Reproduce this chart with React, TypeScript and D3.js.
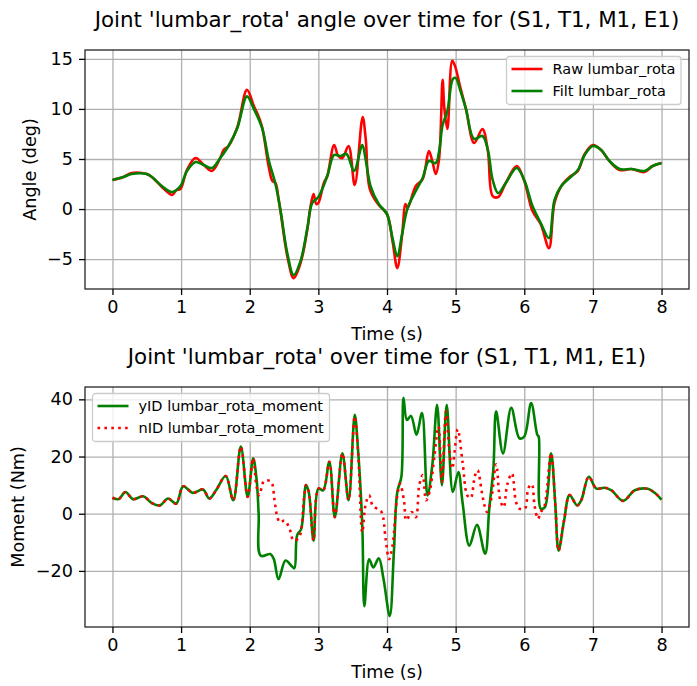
import React, { useEffect, useRef } from "react";
import * as d3 from "d3";

// top panel: raw and filtered joint angle (deg)
const rawTime = [0.0, 0.16, 0.28, 0.5, 0.575, 0.72, 0.8, 0.87, 0.93, 0.99, 1.085, 1.21, 1.33, 1.45, 1.57, 1.62, 1.69, 1.82, 1.96, 2.06, 2.12, 2.18, 2.28, 2.33, 2.375, 2.42, 2.45, 2.55, 2.64, 2.74, 2.84, 2.88, 2.93, 2.97, 3.0, 3.08, 3.13, 3.23, 3.29, 3.35, 3.44, 3.53, 3.645, 3.69, 3.75, 3.88, 4.0, 4.08, 4.15, 4.22, 4.27, 4.3, 4.42, 4.52, 4.61, 4.66, 4.71, 4.76, 4.81, 4.835, 4.88, 4.95, 4.99, 5.07, 5.15, 5.27, 5.39, 5.47, 5.54, 5.62, 5.73, 5.89, 6.0, 6.12, 6.24, 6.36, 6.44, 6.54, 6.66, 6.78, 6.88, 7.0, 7.12, 7.24, 7.39, 7.56, 7.75, 7.87, 8.0];
const rawAngle = [2.9, 3.2, 3.6, 3.5, 3.2, 2.2, 1.7, 1.4, 1.9, 2.0, 3.9, 5.1, 4.4, 3.8, 5.1, 5.9, 6.3, 8.2, 11.9, 10.3, 9.4, 8.2, 4.1, 2.8, 2.6, 1.0, -0.3, -4.8, -6.9, -5.4, -2.0, 0.0, 1.5, 0.5, 0.6, 2.6, 3.3, 6.4, 5.3, 5.1, 6.3, 2.4, 9.2, 7.0, 2.0, 0.4, -0.5, -3.2, -5.9, -2.6, 0.5, 0.1, 2.3, 3.0, 5.8, 4.8, 3.5, 5.1, 12.9, 10.1, 8.0, 14.8, 14.3, 12.1, 10.0, 6.6, 8.0, 5.8, 1.3, 1.2, 2.6, 4.3, 2.8, -0.2, -1.5, -3.9, 0.6, 2.3, 3.2, 3.8, 5.5, 6.4, 5.9, 4.8, 3.9, 4.0, 3.7, 4.3, 4.6];

const filtTime = [0.0, 0.16, 0.28, 0.5, 0.575, 0.72, 0.87, 0.99, 1.085, 1.21, 1.33, 1.45, 1.57, 1.69, 1.82, 1.96, 2.06, 2.18, 2.28, 2.375, 2.45, 2.55, 2.64, 2.74, 2.84, 2.91, 3.0, 3.13, 3.23, 3.32, 3.41, 3.52, 3.64, 3.69, 3.76, 3.88, 4.0, 4.08, 4.15, 4.22, 4.3, 4.42, 4.52, 4.61, 4.71, 4.76, 4.81, 4.88, 4.96, 5.0, 5.07, 5.15, 5.27, 5.39, 5.47, 5.54, 5.62, 5.73, 5.89, 6.0, 6.12, 6.24, 6.36, 6.44, 6.54, 6.66, 6.78, 6.88, 7.0, 7.12, 7.24, 7.39, 7.56, 7.75, 7.87, 8.0];
const filtAngle = [2.9, 3.2, 3.5, 3.5, 3.2, 2.3, 1.7, 2.3, 3.8, 4.7, 4.4, 4.1, 5.1, 6.3, 8.1, 11.25, 10.0, 8.1, 4.8, 2.5, -0.2, -4.5, -6.6, -5.2, -1.9, 0.6, 1.2, 3.3, 5.4, 5.3, 5.5, 3.8, 6.4, 4.9, 2.3, 0.5, -0.5, -2.9, -4.7, -2.5, 0.1, 1.8, 3.1, 4.8, 4.6, 5.8, 8.4, 9.8, 13.0, 13.1, 11.8, 10.0, 7.0, 7.3, 5.9, 2.9, 1.6, 2.6, 4.1, 2.9, 0.3, -1.4, -2.9, 0.9, 2.3, 3.1, 3.9, 5.4, 6.3, 5.9, 4.8, 4.0, 4.0, 3.8, 4.3, 4.6];

// bottom panel: moment with / without ID (Nm)
const yidTime = [0.0, 0.09, 0.19, 0.3, 0.45, 0.57, 0.69, 0.81, 0.93, 1.03, 1.17, 1.32, 1.41, 1.51, 1.65, 1.76, 1.87, 1.97, 2.05, 2.1, 2.13, 2.16, 2.3, 2.35, 2.42, 2.52, 2.6, 2.65, 2.69, 2.75, 2.82, 2.86, 2.93, 3.0, 3.07, 3.16, 3.24, 3.35, 3.44, 3.53, 3.58, 3.64, 3.67, 3.74, 3.8, 3.88, 3.95, 4.04, 4.1, 4.15, 4.21, 4.24, 4.29, 4.35, 4.43, 4.51, 4.59, 4.66, 4.73, 4.8, 4.87, 4.96, 5.04, 5.1, 5.2, 5.31, 5.43, 5.49, 5.55, 5.59, 5.69, 5.81, 5.93, 6.0, 6.1, 6.19, 6.21, 6.24, 6.3, 6.39, 6.45, 6.5, 6.58, 6.66, 6.77, 6.83, 6.94, 7.05, 7.17, 7.27, 7.44, 7.61, 7.8, 7.9, 8.0];
const yidMoment = [5.6, 5.1, 7.6, 5.1, 6.1, 3.8, 2.9, 5.3, 3.5, 9.6, 7.3, 8.5, 5.3, 8.2, 13.2, 4.7, 23.5, 5.9, 19.4, 12.0, 0.0, -14.7, -14.1, -15.8, -22.9, -16.4, -18.0, -19.1, -7.6, -5.3, 10.0, 7.6, -9.4, 8.8, 8.2, 18.2, -1.2, 21.1, 4.7, 34.6, 21.7, -4.1, -32.3, -15.9, -18.8, -15.6, -22.9, -35.8, -13.5, 7.6, 13.0, 40.5, 32.8, 34.2, 27.6, 35.2, 6.4, 17.0, 38.1, 10.0, 38.1, 7.6, 14.6, 4.1, -11.2, -3.9, -14.0, 1.8, 15.8, 35.8, 21.1, 37.0, 26.4, 27.0, 38.7, 27.6, 27.0, 1.8, 2.3, 21.1, 4.1, -12.9, -2.4, 6.5, 2.9, 4.7, 12.9, 8.8, 9.1, 8.2, 4.5, 8.2, 8.7, 7.3, 4.9];

const nidTime = [0.0, 0.09, 0.19, 0.3, 0.45, 0.57, 0.69, 0.81, 0.93, 1.03, 1.17, 1.32, 1.41, 1.51, 1.65, 1.76, 1.87, 1.97, 2.05, 2.1, 2.14, 2.21, 2.31, 2.36, 2.4, 2.44, 2.51, 2.58, 2.64, 2.72, 2.79, 2.82, 2.86, 2.93, 3.0, 3.07, 3.16, 3.24, 3.35, 3.44, 3.53, 3.58, 3.64, 3.69, 3.74, 3.79, 3.85, 3.92, 3.98, 4.03, 4.08, 4.15, 4.19, 4.25, 4.28, 4.36, 4.42, 4.47, 4.52, 4.57, 4.62, 4.69, 4.75, 4.8, 4.86, 4.91, 4.95, 5.03, 5.1, 5.17, 5.22, 5.28, 5.32, 5.38, 5.42, 5.46, 5.52, 5.59, 5.65, 5.7, 5.75, 5.82, 5.88, 5.93, 6.01, 6.06, 6.11, 6.15, 6.2, 6.24, 6.29, 6.39, 6.45, 6.5, 6.58, 6.66, 6.77, 6.83, 6.94, 7.05, 7.17, 7.27, 7.44, 7.61, 7.8, 7.9, 8.0];
const nidMoment = [5.6, 5.1, 7.6, 5.1, 6.1, 3.8, 2.9, 5.3, 3.5, 9.6, 7.3, 8.5, 5.3, 8.2, 13.2, 4.7, 23.5, 5.9, 19.4, 9.4, 6.5, 11.5, 11.2, 5.0, -1.0, -3.0, -2.4, -5.3, -9.4, -8.2, 5.3, 10.0, 7.6, -9.4, 8.8, 8.2, 18.2, -1.2, 21.1, 4.7, 34.0, 21.0, -6.5, 3.5, 6.4, 2.9, 1.8, 0.6, -8.8, -15.9, -11.2, 6.4, 10.5, 4.1, -2.3, 0.6, -1.2, 10.0, 13.5, 4.7, 7.6, 19.9, 30.5, 11.1, 35.8, 21.7, 15.8, 29.5, 18.2, 6.4, 5.5, 13.2, 15.2, 7.8, 2.9, 0.6, 5.3, 17.3, 4.7, 2.3, 10.0, 14.1, 4.1, 1.8, 1.8, 9.0, 10.3, 2.9, -1.8, 0.6, 2.3, 21.1, 4.1, -12.9, -2.4, 6.5, 2.9, 4.7, 12.9, 8.8, 9.1, 8.2, 4.5, 8.2, 8.7, 7.3, 4.9];

const timeTicks = [0, 1, 2, 3, 4, 5, 6, 7, 8];
const angleTicks = [-5, 0, 5, 10, 15];
const momentTicks = [-20, 0, 20, 40];

const W = 697;
const H = 686;
const FONT = "DejaVu Sans";
const FS = 17.6; // tick / label size
const TITLE_FS = 21.4;
const LEG_FS = 14.5;

type Series = { t: number[]; v: number[]; color: string; dash?: string; label: string };

function pad(ext: [number, number]): [number, number] {
  const m = (ext[1] - ext[0]) * 0.05;
  return [ext[0] - m, ext[1] + m];
}

function drawPanel(
  svg: d3.Selection<SVGSVGElement, unknown, null, undefined>,
  box: { left: number; right: number; top: number; bottom: number },
  series: Series[],
  yTicks: number[],
  title: string,
  ylabel: string,
  ylabelX: number,
  legend: { x: number; y: number; w: number }
) {
  const allT = series.flatMap((s) => s.t);
  const allV = series.flatMap((s) => s.v);
  const x = d3.scaleLinear().domain(pad(d3.extent(allT) as [number, number])).range([box.left, box.right]);
  const y = d3.scaleLinear().domain(pad(d3.extent(allV) as [number, number])).range([box.bottom, box.top]);
  const h = box.bottom - box.top;
  const w = box.right - box.left;

  // grid
  const gx = svg
    .append("g")
    .attr("transform", `translate(0, ${box.bottom})`)
    .call(d3.axisBottom(x).tickValues(timeTicks).tickSize(-h).tickFormat(() => ""));
  gx.select(".domain").remove();
  gx.selectAll(".tick line").attr("stroke", "#b0b0b0").attr("stroke-width", 1.3);

  const gy = svg
    .append("g")
    .attr("transform", `translate(${box.left}, 0)`)
    .call(d3.axisLeft(y).tickValues(yTicks).tickSize(-w).tickFormat(() => ""));
  gy.select(".domain").remove();
  gy.selectAll(".tick line").attr("stroke", "#b0b0b0").attr("stroke-width", 1.3);

  // lines
  series.forEach((s) => {
    const pts = s.t.map((t, i) => [t, s.v[i]] as [number, number]);
    const line = d3
      .line<[number, number]>()
      .x((d) => x(d[0]))
      .y((d) => y(d[1]))
      .curve(d3.curveCatmullRom.alpha(0.5));
    svg
      .append("path")
      .datum(pts)
      .attr("fill", "none")
      .attr("stroke", s.color)
      .attr("stroke-width", 2.6)
      .attr("stroke-linejoin", "round")
      .attr("stroke-dasharray", s.dash ?? null)
      .attr("d", line);
  });

  // spines
  svg
    .append("rect")
    .attr("x", box.left)
    .attr("y", box.top)
    .attr("width", w)
    .attr("height", h)
    .attr("fill", "none")
    .attr("stroke", "#262626")
    .attr("stroke-width", 1.3);

  // ticks + labels
  const ax = svg
    .append("g")
    .attr("transform", `translate(0, ${box.bottom})`)
    .call(d3.axisBottom(x).tickValues(timeTicks).tickSize(6).tickPadding(6).tickFormat(d3.format("d")));
  ax.select(".domain").remove();
  ax.selectAll(".tick line").attr("stroke", "#000").attr("stroke-width", 1.3);
  ax.selectAll("text").attr("font-size", FS).attr("font-family", FONT).attr("fill", "#000");

  const ay = svg
    .append("g")
    .attr("transform", `translate(${box.left}, 0)`)
    .call(d3.axisLeft(y).tickValues(yTicks).tickSize(6).tickPadding(6).tickFormat(d3.format("d")));
  ay.select(".domain").remove();
  ay.selectAll(".tick line").attr("stroke", "#000").attr("stroke-width", 1.3);
  ay.selectAll("text").attr("font-size", FS).attr("font-family", FONT).attr("fill", "#000");

  const cx = (box.left + box.right) / 2;
  svg
    .append("text")
    .attr("x", cx)
    .attr("y", box.bottom + 51)
    .attr("text-anchor", "middle")
    .attr("font-size", FS)
    .attr("font-family", FONT)
    .text("Time (s)");

  svg
    .append("text")
    .attr("x", cx)
    .attr("y", box.top - 23)
    .attr("text-anchor", "middle")
    .attr("font-size", TITLE_FS)
    .attr("font-family", FONT)
    .text(title);

  svg
    .append("text")
    .attr("transform", `translate(${ylabelX}, ${(box.top + box.bottom) / 2}) rotate(-90)`)
    .attr("text-anchor", "middle")
    .attr("font-size", FS)
    .attr("font-family", FONT)
    .text(ylabel);

  // legend
  const lg = svg.append("g").attr("transform", `translate(${legend.x}, ${legend.y})`);
  lg.append("rect")
    .attr("width", legend.w)
    .attr("height", 48)
    .attr("rx", 3)
    .attr("fill", "#fff")
    .attr("fill-opacity", 0.8)
    .attr("stroke", "#cccccc")
    .attr("stroke-width", 1.3);
  series.forEach((s, i) => {
    const ly = 12.5 + i * 22;
    lg.append("line")
      .attr("x1", 5)
      .attr("x2", 36)
      .attr("y1", ly)
      .attr("y2", ly)
      .attr("stroke", s.color)
      .attr("stroke-width", 2.6)
      .attr("stroke-dasharray", s.dash ?? null);
    lg.append("text")
      .attr("x", 46)
      .attr("y", ly)
      .attr("dy", "0.35em")
      .attr("font-size", LEG_FS)
      .attr("font-family", FONT)
      .text(s.label);
  });
}

const App = () => {
  const svgRef = useRef<SVGSVGElement>(null);

  useEffect(() => {
    const svg = d3.select(svgRef.current as SVGSVGElement);
    svg.selectAll("*").remove();

    svg.append("rect").attr("width", W).attr("height", H).attr("fill", "#fff");

    drawPanel(
      svg,
      { left: 85, right: 689, top: 50, bottom: 289 },
      [
        { t: rawTime, v: rawAngle, color: "#ff0000", label: "Raw lumbar_rota" },
        { t: filtTime, v: filtAngle, color: "#008000", label: "Filt lumbar_rota" },
      ],
      angleTicks,
      "Joint 'lumbar_rota' angle over time for (S1, T1, M1, E1)",
      "Angle (deg)",
      36,
      { x: 506.5, y: 56.5, w: 174.5 }
    );

    drawPanel(
      svg,
      { left: 85, right: 689, top: 387, bottom: 627 },
      [
        { t: yidTime, v: yidMoment, color: "#008000", label: "yID lumbar_rota_moment" },
        { t: nidTime, v: nidMoment, color: "#ff0000", dash: "2.6 4.3", label: "nID lumbar_rota_moment" },
      ],
      momentTicks,
      "Joint 'lumbar_rota' over time for (S1, T1, M1, E1)",
      "Moment (Nm)",
      24,
      { x: 92.5, y: 393.5, w: 237 }
    );
  }, []);

  return <svg ref={svgRef} width={W} height={H} style={{ position: "absolute", left: 0, top: 0 }} />;
};

export default App;
